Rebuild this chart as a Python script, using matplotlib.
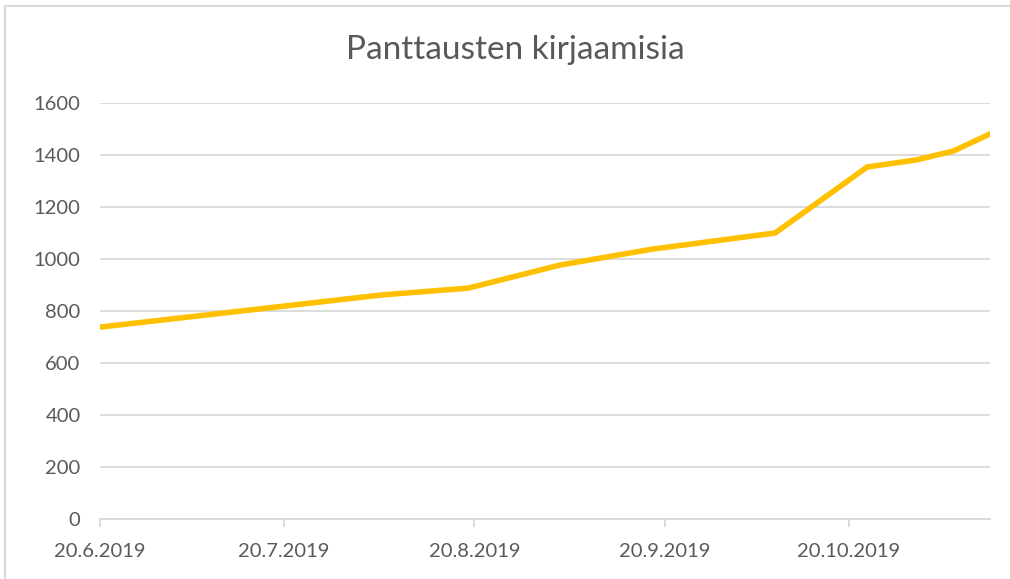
import matplotlib
matplotlib.use("Agg")
import matplotlib.pyplot as plt
import pandas as pd
from matplotlib.patches import Rectangle

dates = ["2019-06-20", "2019-08-05", "2019-08-19", "2019-09-03", "2019-09-18",
         "2019-10-08", "2019-10-23", "2019-10-31", "2019-11-06", "2019-11-12"]
values = [738, 862, 888, 977, 1038, 1100, 1354, 1381, 1415, 1481]
tick_dates = ["2019-06-20", "2019-07-20", "2019-08-20", "2019-09-20", "2019-10-20"]
tick_labels = ["20.6.2019", "20.7.2019", "20.8.2019", "20.9.2019", "20.10.2019"]
y_ticks = [0, 200, 400, 600, 800, 1000, 1200, 1400, 1600]
title = "Panttausten kirjaamisia"

plt.rcParams['font.family'] = ['Lato', 'DejaVu Sans']
txt = "#595959"

fig = plt.figure(figsize=(10.10, 5.79), dpi=100)
fig.patches.append(Rectangle((0.005, -0.01), 1.1, 1.0, transform=fig.transFigure,
                             fill=False, edgecolor="#D9D9D9", linewidth=1.5))
ax = fig.add_axes([100/1010, 1-519/579, 890/1010, (519-103)/579])

x = pd.to_datetime(dates)
ax.plot(x, values, color="#FFC000", linewidth=4.0, solid_capstyle="round",
        solid_joinstyle="round", zorder=3)

ax.set_xlim(pd.Timestamp("2019-06-20"), pd.Timestamp("2019-11-12"))
ax.set_ylim(0, 1600)
ax.set_yticks(y_ticks)
ax.set_yticklabels([str(v) for v in y_ticks])
ax.set_xticks(pd.to_datetime(tick_dates))
ax.set_xticklabels(tick_labels)

ax.grid(axis="y", color="#D9D9D9", linewidth=1.3)
ax.set_axisbelow(True)
for s in ["top", "right", "left"]:
    ax.spines[s].set_visible(False)
ax.spines["bottom"].set_color("#D9D9D9")
ax.spines["bottom"].set_linewidth(1.3)
ax.tick_params(axis="y", length=0, pad=14, labelsize=14.5, labelcolor=txt)
ax.tick_params(axis="x", length=6, width=1.3, color="#D9D9D9", pad=11,
               labelsize=14.5, labelcolor=txt, direction="out")

fig.text(515/1010, 1-50/579, title, ha="center", va="center", fontsize=24,
         color=txt)

fig.savefig("out.png", dpi=100)
